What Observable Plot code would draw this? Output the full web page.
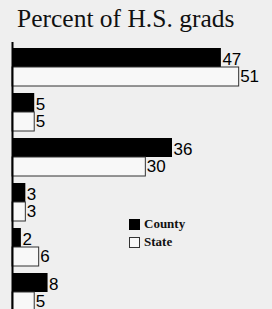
<!DOCTYPE html>
<html>
<head>
<meta charset="utf-8">
<script src="https://cdn.jsdelivr.net/npm/d3@7"></script>
<script src="https://cdn.jsdelivr.net/npm/@observablehq/plot@0.6"></script>
<style>
  html, body { margin: 0; padding: 0; background: #efefef; overflow: hidden; width: 272px; height: 309px; }
  #wrap { position: relative; width: 272px; height: 309px; }
  #title { position: absolute; left: 17px; top: 6px; font-family: "Liberation Serif", serif; font-size: 25.5px; line-height: 1; color: #111; white-space: nowrap; }
  #chart { position: absolute; left: 0; top: 40px; }
  #legend { position: absolute; left: 129px; top: 215px; font-family: "Liberation Serif", serif; font-weight: bold; font-size: 13px; color: #111; }
  .item { display: flex; align-items: center; height: 18px; }
  .sw { width: 11px; height: 11px; box-sizing: border-box; margin-right: 4px; }
</style>
</head>
<body>
<div id="wrap">
  <div id="title">Percent of H.S. grads</div>
  <div id="chart"></div>
  <div id="legend">
    <div class="item"><div class="sw" style="background:#000"></div><span>County</span></div>
    <div class="item"><div class="sw" style="background:#f8f8f8;border:1px solid #333"></div><span>State</span></div>
  </div>
</div>
<script>
const groups = ["A", "B", "C", "D", "E", "F"];
const countyValues = [47, 5, 36, 3, 2, 8];
const stateValues = [51, 5, 30, 3, 6, 5];

const rows = groups.map((g, i) => ({group: g, county: countyValues[i], state: stateValues[i]}));

const half = 19;
const chart = Plot.plot({
  width: 272,
  height: 277,
  marginTop: 2,
  marginBottom: 0,
  marginLeft: 12,
  marginRight: 0,
  style: {background: "transparent"},
  x: {domain: [0, 58.5], axis: null},
  y: {domain: groups, axis: null, paddingInner: 0.163, paddingOuter: 0.11},
  marks: [
    Plot.barX(rows, {x: "county", y: "group", fill: "#000", insetBottom: half}),
    Plot.barX(rows, {x: "state", y: "group", fill: "#f8f8f8", stroke: "#333", strokeWidth: 1, insetTop: half}),
    Plot.text(rows, {x: "county", y: "group", text: d => String(d.county), textAnchor: "start", dx: 1, dy: -8, fontSize: 17, fontFamily: "Liberation Sans", fill: "#000"}),
    Plot.text(rows, {x: "state", y: "group", text: d => String(d.state), textAnchor: "start", dx: 1, dy: 9.5, fontSize: 17, fontFamily: "Liberation Sans", fill: "#000"}),
    Plot.ruleX([0], {stroke: "#000", strokeWidth: 2})
  ]
});
document.getElementById("chart").appendChild(chart);
</script>
</body>
</html>
